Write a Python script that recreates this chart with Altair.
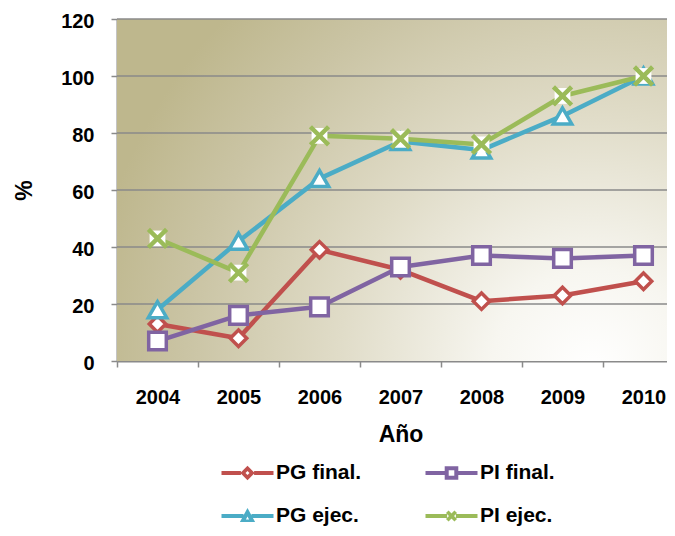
import altair as alt
import pandas as pd

# ---- data ----
years = ['2004', '2005', '2006', '2007', '2008', '2009', '2010']
series = ['PG final.', 'PI final.', 'PG ejec.', 'PI ejec.']
pg_final = [13, 8, 39, 32, 21, 23, 28]
pi_final = [7, 16, 19, 33, 37, 36, 37]
pg_ejec = [18, 42, 64, 77, 74, 86, 100]
pi_ejec = [43, 31, 79, 78, 76, 93, 100]
y_ticks = [0, 20, 40, 60, 80, 100, 120]
colors = ['#C0504D', '#8064A2', '#4BACC6', '#9BBB59']

rows = []
for s, vals in zip(series, [pg_final, pi_final, pg_ejec, pi_ejec]):
    for yr, v in zip(years, vals):
        rows.append({'Año': yr, 'serie': s, 'valor': v})
df = pd.DataFrame(rows)
grid_df = pd.DataFrame({'valor': y_ticks[1:]})
bg_df = pd.DataFrame({'bg': [0]})

W, H = 550, 342          # visible plot width (the reference is cut at the right edge)
FULL_W = 567             # full width of the category range (7 bands of 81 px)
FONT = 'Liberation Sans'
GRAY = '#8a8a8a'

# legend symbols: line with marker (ring shapes so the centre shows white)
def bars(e):
    return (f'M-1.3,-0.1L-{e},-0.1L-{e},0.1L-1.3,0.1Z'
            f'M{e},-0.1L1.3,-0.1L1.3,0.1L{e},0.1Z')

leg_diamond = bars(0.33) + 'M0,-0.36L0.36,0L0,0.36L-0.36,0ZM0,-0.1L-0.1,0L0,0.1L0.1,0Z'
leg_square = bars(0.33) + 'M-0.34,-0.34L0.34,-0.34L0.34,0.34L-0.34,0.34ZM-0.14,-0.14L-0.14,0.14L0.14,0.14L0.14,-0.14Z'
leg_triangle = bars(0.2) + 'M0,-0.4L0.38,0.3L-0.38,0.3ZM0,0.02L-0.08,0.17L0.08,0.17Z'
leg_x = bars(0.22) + ('M-0.148,-0.276L0.276,0.148L0.148,0.276L-0.276,-0.148Z'
                     'M0.148,-0.276L0.276,-0.148L-0.148,0.276L-0.276,0.148Z')
legend_paths = [leg_diamond, leg_square, leg_triangle, leg_x]

x_axis = alt.Axis(title='Año', labelAngle=0, tickBand='extent', tickSize=6,
                  tickColor=GRAY, tickWidth=1.5, domainColor=GRAY, domainWidth=2,
                  labelFont=FONT, labelFontSize=20, labelFontWeight='bold',
                  labelColor='black', labelPadding=20, grid=False,
                  titleFont=FONT, titleFontSize=23, titleFontWeight='bold',
                  titleColor='black', titleX=FULL_W / 2, titleY=62, titleBaseline='top')
x_enc = alt.X('Año:N',
              scale=alt.Scale(type='band', domain=years, paddingInner=0,
                              paddingOuter=0, range=[0, FULL_W]),
              axis=x_axis)
y_scale = alt.Scale(domain=[0, 120], nice=False, zero=True)
y_axis = alt.Axis(title='%', values=y_ticks, grid=False, tickSize=6,
                  tickColor=GRAY, tickWidth=1.5, domainColor=GRAY, domainWidth=2,
                  labelFont=FONT, labelFontSize=20, labelFontWeight='bold',
                  labelColor='black', labelPadding=17, labelOffset=2,
                  titleFont=FONT, titleFontSize=23, titleFontWeight='bold',
                  titleColor='black', titleX=-93, titleY=H / 2,
                  titleBaseline='middle', titleAlign='center', titleAngle=-90)
y_enc = alt.Y('valor:Q', scale=y_scale, axis=y_axis)

gradient = {
    'gradient': 'radial',
    'x1': 0.84, 'y1': 0.82, 'r1': 0,
    'x2': 0.84, 'y2': 0.82, 'r2': 0.9,
    'stops': [
        {'offset': 0.0, 'color': '#ffffff'},
        {'offset': 0.2, 'color': '#f7f6f0'},
        {'offset': 0.5, 'color': '#e0dcc8'},
        {'offset': 0.8, 'color': '#cac4a4'},
        {'offset': 1.0, 'color': '#beb78d'},
    ],
}

background = alt.Chart(bg_df).mark_rect(fill=gradient, strokeWidth=0).encode(
    x=alt.value(0), x2=alt.value(FULL_W), y=alt.value(0), y2=alt.value(H))

grid = alt.Chart(grid_df).mark_rule(color=GRAY, strokeWidth=1.5).encode(
    x=alt.value(0), x2=alt.value(FULL_W), y=y_enc)

layers = [background, grid]

marker_specs = {
    'PG final.': ('diamond', 270),
    'PI final.': ('square', 310),
    'PG ejec.': ('triangle-up', 340),
}
for s, col in zip(series, colors):
    sub = alt.Chart(df).transform_filter(alt.datum.serie == s)
    layers.append(sub.mark_line(strokeWidth=4.5, strokeJoin='round', color=col)
                  .encode(x=x_enc, y=y_enc))
    if s in marker_specs:
        shp, size = marker_specs[s]
        layers.append(sub.mark_point(shape=shp, size=size, filled=True, fill='white',
                                     stroke=col, strokeWidth=3.5, opacity=1)
                      .encode(x=x_enc, y=y_enc))
    else:
        layers.append(sub.mark_point(shape='square', size=250, filled=True,
                                     fill='white', strokeWidth=0, opacity=1)
                      .encode(x=x_enc, y=y_enc))
        layers.append(sub.mark_point(shape='M-1,-1L1,1M-1,1L1,-1', size=330,
                                     filled=False, stroke=col, strokeWidth=4.5,
                                     opacity=1)
                      .encode(x=x_enc, y=y_enc))

leg = alt.Legend(title=None, orient='none', direction='horizontal',
                 legendX=110.5, legendY=434, columns=2,
                 columnPadding=64, rowPadding=13, padding=0, labelFont=FONT,
                 labelFontSize=21, labelFontWeight='bold', labelColor='black',
                 labelOffset=8.5, labelLimit=400, symbolSize=1600,
                 symbolStrokeWidth=0, symbolOpacity=1)

legend_layer = alt.Chart(df).mark_point(filled=True, opacity=0, size=10).encode(
    x=x_enc, y=y_enc,
    color=alt.Color('serie:N', scale=alt.Scale(domain=series, range=colors), legend=leg),
    shape=alt.Shape('serie:N', scale=alt.Scale(domain=series, range=legend_paths),
                    legend=leg))
layers.append(legend_layer)

chart = alt.layer(*layers).properties(
    width=W, height=H,
    autosize=alt.AutoSizeParams(type='none'),
    padding={'left': 109, 'top': 11, 'right': 0, 'bottom': 167},
).configure_view(stroke=None)

chart.save('out.html', embed_options={'renderer': 'svg', 'actions': False})
